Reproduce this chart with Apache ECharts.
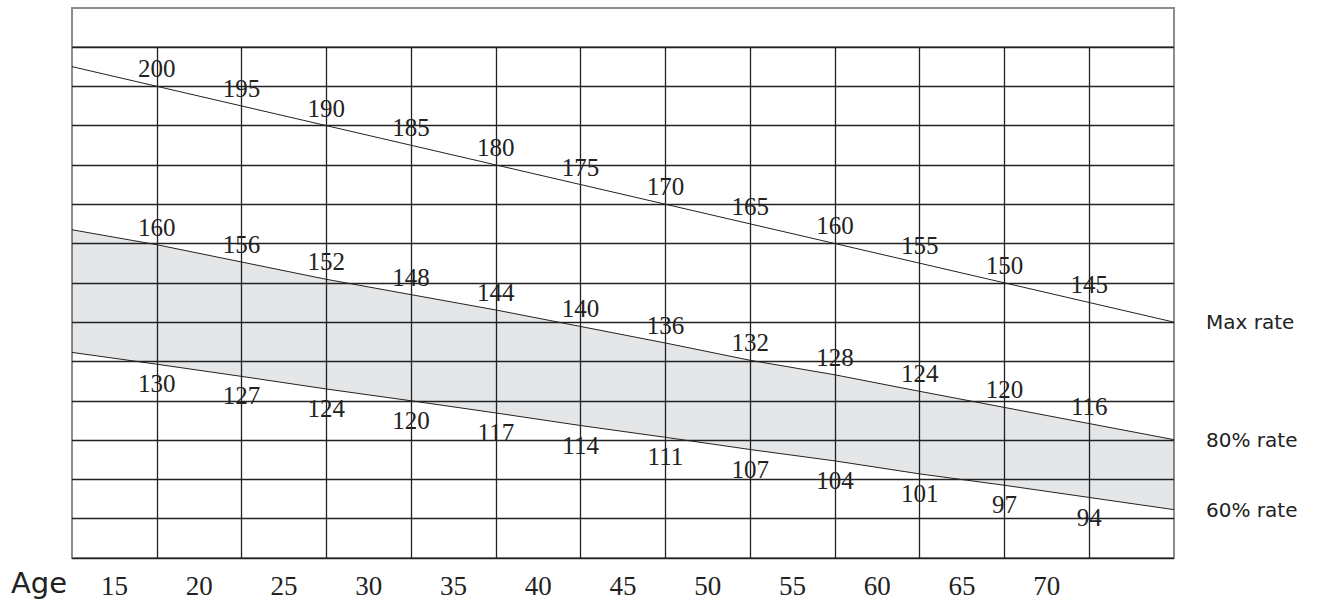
<!DOCTYPE html>
<html>
<head>
<meta charset="utf-8">
<script src="https://cdn.jsdelivr.net/npm/echarts@6/dist/echarts.min.js"></script>
<style>
  html, body { margin: 0; padding: 0; background: #fff; }
  #chart { width: 1322px; height: 602px; }
</style>
</head>
<body>
<div id="chart"></div>
<script>
// ages at the vertical grid lines (left border = 15, right border = 80)
var ages = ['15', '20', '25', '30', '35', '40', '45', '50', '55', '60', '65', '70', '75', '80'];
// the printed age labels sit in the middle of each column
var ageLabels = ['15', '20', '25', '30', '35', '40', '45', '50', '55', '60', '65', '70', ''];

// heart rate read at each grid line
var maxRate = [205, 200, 195, 190, 185, 180, 175, 170, 165, 160, 155, 150, 145, 140];
var rate80 = [163.5, 159.7, 155.3, 150.9, 147.0, 143.1, 138.9, 134.7, 130.3, 126.6, 122.4, 118.3, 114.2, 110.1];
var rate60 = [132.3, 129.3, 126.2, 123.0, 120.0, 116.9, 113.7, 110.7, 107.6, 104.7, 101.4, 98.5, 95.4, 92.3];

// numbers printed along each line (ages 20 .. 75)
var maxLabels = ['200', '195', '190', '185', '180', '175', '170', '165', '160', '155', '150', '145'];
var labels80 = ['160', '156', '152', '148', '144', '140', '136', '132', '128', '124', '120', '116'];
var labels60 = ['130', '127', '124', '120', '117', '114', '111', '107', '104', '101', '97', '94'];

var ink = '#222222';
var frame = '#8c8c8c';
var bandFill = 'rgba(19,28,46,0.11)';

var bandSpan = rate80.map(function(v, i) { return +(v - rate60[i]).toFixed(1); });

function pointLabel(texts, pos, dist) {
  return {
    show: true,
    position: pos,
    distance: dist,
    fontFamily: 'Liberation Serif',
    fontSize: 25,
    color: ink,
    formatter: function(p) { return texts[p.dataIndex - 1] || ''; }
  };
}

function endLabel(text) {
  return {
    show: true,
    formatter: text,
    distance: 32,
    fontFamily: 'DejaVu Sans',
    fontSize: 20,
    color: ink
  };
}

var chart = echarts.init(document.getElementById('chart'), null, { renderer: 'svg' });
chart.setOption({
  animation: false,
  backgroundColor: '#fff',
  title: {
    text: 'Age',
    left: 11,
    top: 568,
    padding: 0,
    textStyle: { fontFamily: 'DejaVu Sans', fontSize: 29, fontWeight: 'normal', color: ink }
  },
  grid: [
    // main chart area (80 .. 210 bpm)
    {
      left: 72, right: 148, top: 47, bottom: 44,
      show: true, borderColor: frame, borderWidth: 2,
      outerBoundsMode: 'none'
    },
    // empty header row above it
    {
      left: 72, right: 148, top: 8, height: 39,
      show: true, borderColor: frame, borderWidth: 2,
      outerBoundsMode: 'none'
    },
    // white inset that keeps the header row clear of column lines
    {
      left: 73, right: 149, top: 9, height: 36.5,
      show: true, backgroundColor: '#fff', borderWidth: 0, z: 1,
      outerBoundsMode: 'none'
    }
  ],
  xAxis: [
    {
      type: 'category',
      gridIndex: 0,
      position: 'bottom',
      data: ages,
      boundaryGap: false,
      axisLine: { show: false },
      axisTick: { show: false },
      axisLabel: { show: false },
      splitLine: {
        show: true, interval: 0, showMinLine: false, showMaxLine: false,
        lineStyle: { color: ink, width: 1.3 }
      }
    },
    {
      type: 'category',
      gridIndex: 0,
      position: 'bottom',
      data: ageLabels,
      boundaryGap: true,
      axisLine: { show: false },
      axisTick: { show: false },
      splitLine: { show: false },
      axisLabel: {
        interval: 0, margin: 14,
        fontFamily: 'Liberation Serif', fontSize: 27, color: ink
      }
    },
    { type: 'value', gridIndex: 1, show: false },
    { type: 'value', gridIndex: 2, show: false }
  ],
  yAxis: [
    {
      type: 'value',
      gridIndex: 0,
      min: 80,
      max: 210,
      interval: 10,
      axisLine: { show: false },
      axisTick: { show: false },
      axisLabel: { show: false },
      splitLine: { show: true, lineStyle: { color: ink, width: 1.3 } }
    },
    { type: 'value', gridIndex: 1, show: false },
    { type: 'value', gridIndex: 2, show: false }
  ],
  series: [
    {
      name: 'band base',
      type: 'line',
      stack: 'band',
      data: rate60,
      symbol: 'none',
      silent: true,
      lineStyle: { opacity: 0 }
    },
    {
      name: 'band',
      type: 'line',
      stack: 'band',
      data: bandSpan,
      symbol: 'none',
      silent: true,
      lineStyle: { opacity: 0 },
      areaStyle: { color: bandFill, opacity: 1 }
    },
    {
      name: 'Max rate',
      type: 'line',
      data: maxRate,
      symbol: 'circle',
      symbolSize: 0.1,
      showSymbol: true,
      showAllSymbol: true,
      itemStyle: { color: ink },
      lineStyle: { color: ink, width: 1 },
      label: pointLabel(maxLabels, 'top', 5),
      endLabel: endLabel('Max rate')
    },
    {
      name: '80% rate',
      type: 'line',
      data: rate80,
      symbol: 'circle',
      symbolSize: 0.1,
      showSymbol: true,
      showAllSymbol: true,
      itemStyle: { color: ink },
      lineStyle: { color: ink, width: 1 },
      label: pointLabel(labels80, 'top', 5),
      endLabel: endLabel('80% rate')
    },
    {
      name: '60% rate',
      type: 'line',
      data: rate60,
      symbol: 'circle',
      symbolSize: 0.1,
      showSymbol: true,
      showAllSymbol: true,
      itemStyle: { color: ink },
      lineStyle: { color: ink, width: 1 },
      label: pointLabel(labels60, 'bottom', 7),
      endLabel: endLabel('60% rate')
    }
  ]
});
window.addEventListener('resize', function() { chart.resize(); });
</script>
</body>
</html>
